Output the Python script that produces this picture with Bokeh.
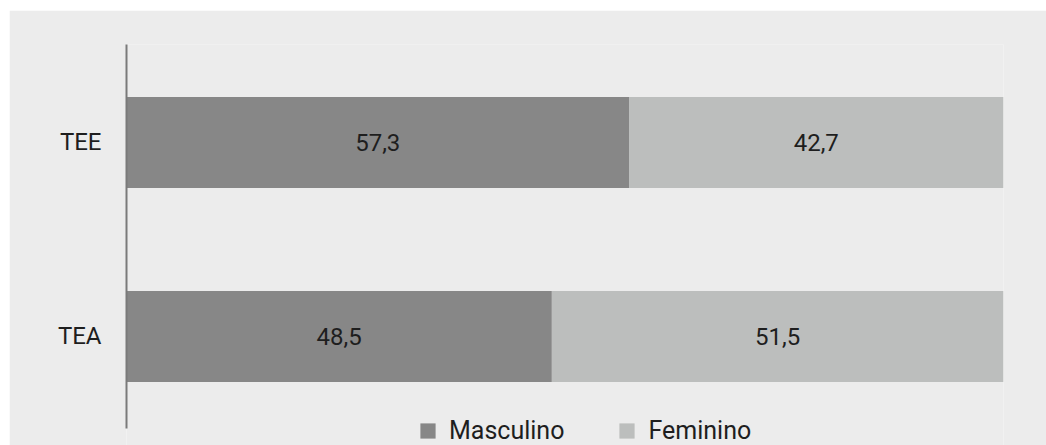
from bokeh.plotting import figure
from bokeh.models import ColumnDataSource, Range1d, Legend, LegendItem, Spacer, FixedTicker
from bokeh.layouts import column, row
from bokeh.core.properties import value
from bokeh.embed import file_html
from bokeh.resources import INLINE

categories = ["TEE", "TEA"]
masculino = [57.3, 48.5]
feminino = [42.7, 51.5]
series = ["Masculino", "Feminino"]
colors = ["#878787", "#bcbebd"]

FONT = "Roboto"
BG = "#ececec"

ypos = [len(categories) - 1 - i for i in range(len(categories))]
src = ColumnDataSource(dict(
    y=ypos, cat=categories,
    Masculino=masculino, Feminino=feminino,
))

p = figure(width=1037, height=435, output_backend="svg", toolbar_location=None,
           x_range=Range1d(0, 100), y_range=Range1d(-0.562, 1.505),
           min_border_left=117, min_border_right=43, min_border_top=34, min_border_bottom=0,
           background_fill_color=BG, border_fill_color=BG, outline_line_color=None)

rs = p.hbar_stack(series, y="y", height=0.47, color=colors, line_color=None, source=src)

# value labels
lx, ly, lt = [], [], []
for i, c in enumerate(categories):
    m, f = masculino[i], feminino[i]
    for xv, v in ((m / 2, m), (m + f / 2, f)):
        lx.append(xv); ly.append(ypos[i]); lt.append(f"{v:.1f}".replace(".", ","))
p.text(x=lx, y=ly, text=lt, text_align="center", text_baseline="middle",
       text_font=value(FONT), text_font_size="24px", text_color="#1e1e1e")

p.xaxis.visible = False
p.xgrid.visible = False
p.ygrid.visible = False
ax = p.yaxis[0]
ax.ticker = FixedTicker(ticks=ypos)
ax.bounds = (-0.474, 1.505)
ax.major_label_overrides = {ypos[i]: categories[i] for i in range(len(categories))}
ax.major_tick_line_color = None
ax.minor_tick_line_color = None
ax.axis_line_color = "#7a7a7a"
ax.axis_line_width = 2
ax.major_label_standoff = 19
ax.major_label_text_font = FONT
ax.major_label_text_font_size = "24px"
ax.major_label_text_color = "#1e1e1e"

legend = Legend(items=[LegendItem(label=s, renderers=[r]) for s, r in zip(series, rs)],
                orientation="horizontal", location=(292, 0),
                glyph_width=19, glyph_height=19, label_standoff=12, spacing=53,
                label_text_font=FONT, label_text_font_size="25px", label_text_color="#1e1e1e",
                background_fill_alpha=0, border_line_alpha=0, padding=0, margin=0)
p.add_layout(legend, "center")

layout = column(Spacer(height=10), row(Spacer(width=9), p), spacing=0)
open("out.html", "w").write(file_html(layout, INLINE))
